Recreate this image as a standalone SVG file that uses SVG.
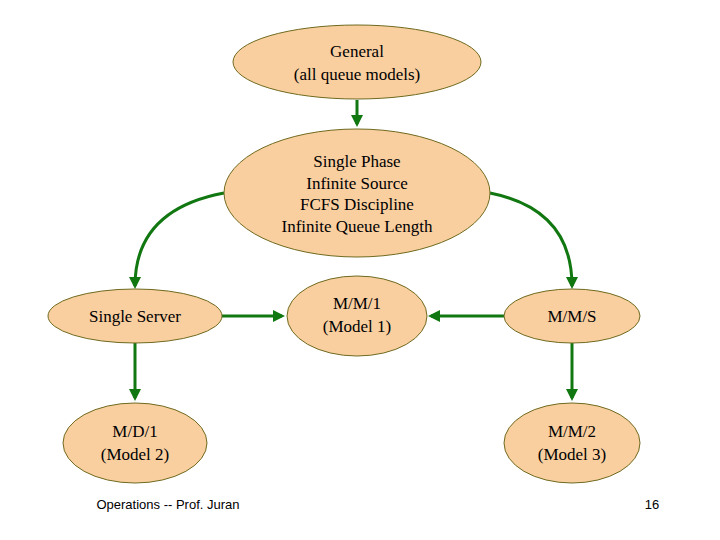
<svg xmlns="http://www.w3.org/2000/svg" width="720" height="540" viewBox="0 0 720 540">
<style>
.n ellipse{fill:#F9CFA0;stroke:#6E6A1E;stroke-width:1}
text{font-family:"Liberation Serif",serif;font-size:17px;fill:#000;text-anchor:middle}
.c path{fill:none;stroke:#117711;stroke-width:3;marker-end:url(#a)}
.f{font-size:13px;font-family:"Liberation Sans",sans-serif}
</style>
<defs><marker id="a" markerWidth="4" markerHeight="4" refX="3" refY="2" orient="auto" markerUnits="strokeWidth"><path d="M0,0 L4,2 L0,4z" fill="#117711"/></marker></defs>
<rect width="720" height="540" fill="#fff"/>
<g class="c">
<path d="M357,100 V124"/>
<path d="M224,193 C160,205 135,240 135,286"/>
<path d="M490,193 C550,205 572,240 572,286"/>
<path d="M222,316 H282"/>
<path d="M504,316 H431"/>
<path d="M135,343 V398"/>
<path d="M572,343 V398"/>
</g>
<g id="general" class="n"><ellipse cx="357" cy="62" rx="124" ry="37"/><text x="357" y="57">General</text><text x="357" y="80">(all queue models)</text></g>
<g id="phase" class="n"><ellipse cx="357" cy="193" rx="133" ry="64"/><text x="357" y="167">Single Phase</text><text x="357" y="189">Infinite Source</text><text x="357" y="210">FCFS Discipline</text><text x="357" y="232">Infinite Queue Length</text></g>
<g id="server" class="n"><ellipse cx="135" cy="316" rx="87" ry="27"/><text x="135" y="322">Single Server</text></g>
<g id="mm1" class="n"><ellipse cx="357" cy="316" rx="70" ry="40"/><text x="357" y="309">M/M/1</text><text x="357" y="332">(Model 1)</text></g>
<g id="mms" class="n"><ellipse cx="572" cy="316" rx="68" ry="27"/><text x="572" y="322">M/M/S</text></g>
<g id="md1" class="n"><ellipse cx="135" cy="443" rx="72" ry="40"/><text x="135" y="437">M/D/1</text><text x="135" y="460">(Model 2)</text></g>
<g id="mm2" class="n"><ellipse cx="572" cy="443" rx="68" ry="40"/><text x="572" y="437">M/M/2</text><text x="572" y="460">(Model 3)</text></g>
<text class="f" x="168" y="509">Operations  --  Prof. Juran</text>
<text class="f" x="652" y="509">16</text>
</svg>
